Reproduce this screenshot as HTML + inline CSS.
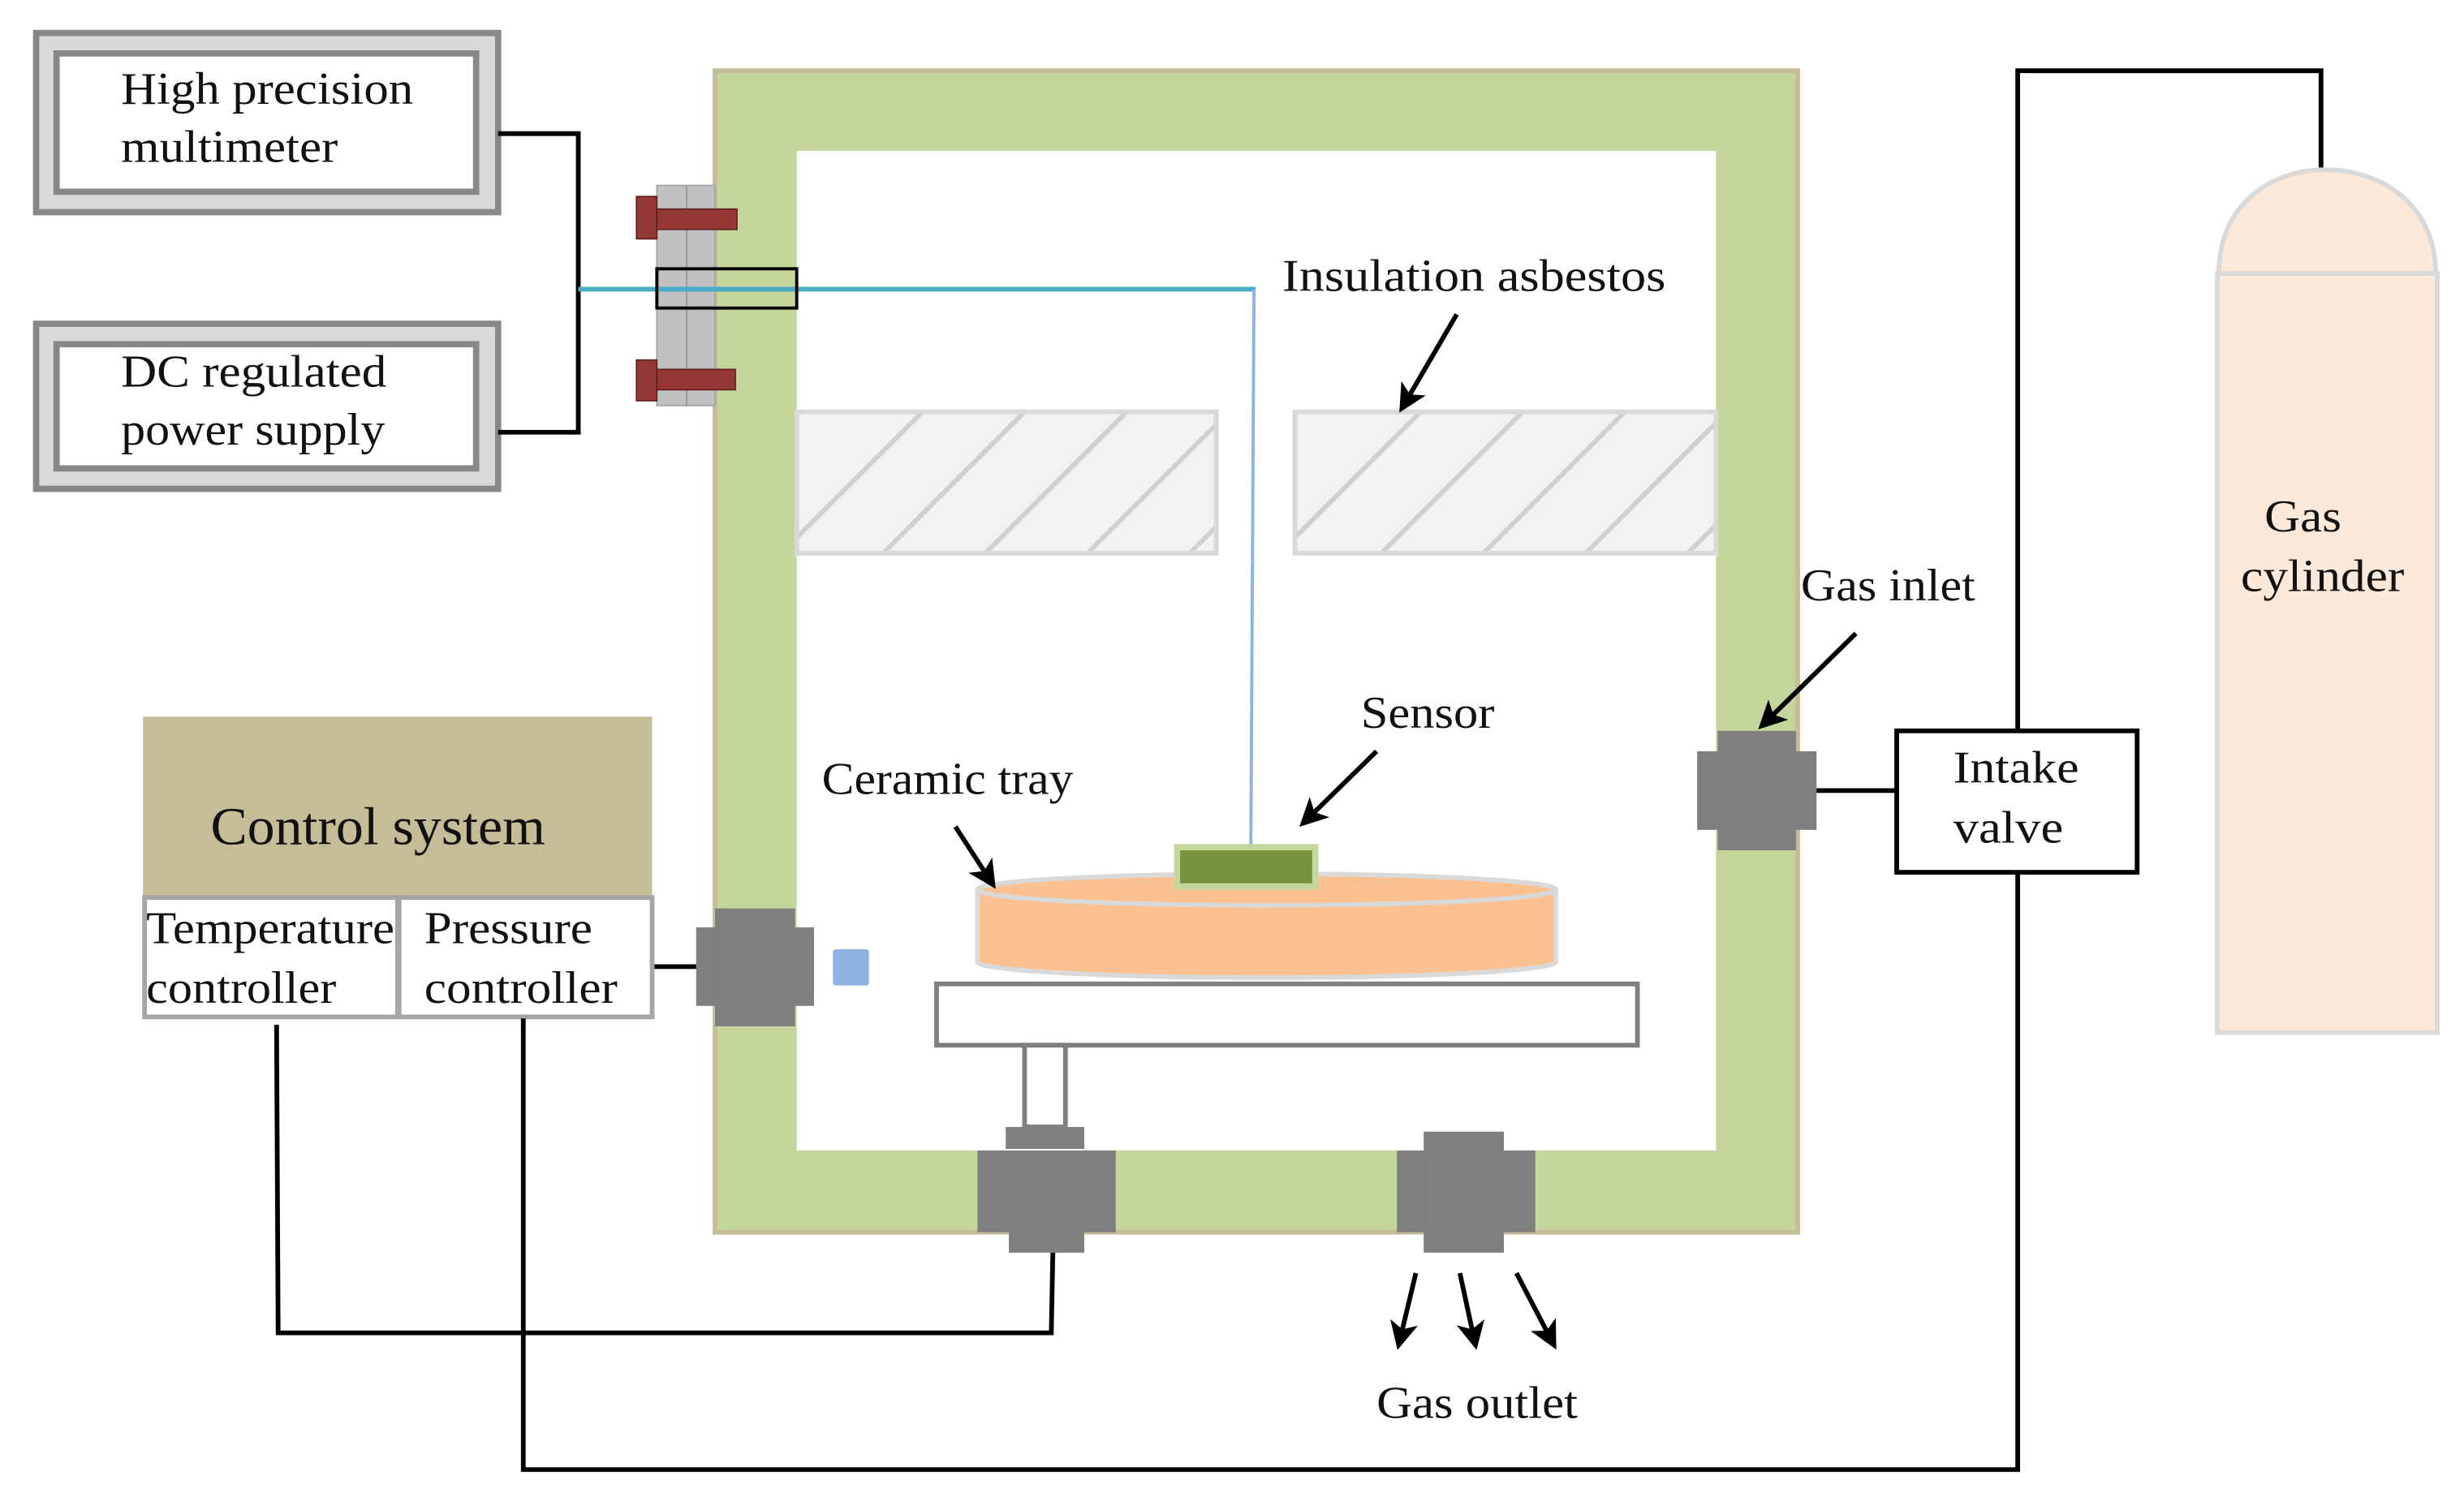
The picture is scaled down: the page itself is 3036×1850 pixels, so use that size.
<!DOCTYPE html>
<html><head><meta charset="utf-8"><style>
html,body{margin:0;padding:0;background:#fff;}
svg{display:block;}
text{font-family:"Liberation Serif",serif;font-size:29px;fill:#111;}
</style></head><body>
<svg width="3036" height="1850" viewBox="0 0 1568 955" preserveAspectRatio="none" xmlns="http://www.w3.org/2000/svg">
<defs>
<marker id="ah" markerWidth="6" markerHeight="6" refX="5" refY="3" orient="auto" markerUnits="strokeWidth">
<path d="M0,0 L6,3 L0,6 L1.5,3 z" fill="#000"/></marker>
<clipPath id="c1"><rect x="507" y="262" width="267" height="90"/></clipPath>
<clipPath id="c2"><rect x="824" y="262" width="268" height="90"/></clipPath>
</defs>
<rect x="23" y="21" width="294" height="114" fill="#d9d9d9" stroke="#888" stroke-width="4"/>
<rect x="36" y="34" width="267" height="88" fill="#fff" stroke="#888" stroke-width="4"/>
<rect x="23" y="206" width="294" height="105" fill="#d9d9d9" stroke="#888" stroke-width="4"/>
<rect x="36" y="219" width="267" height="79" fill="#fff" stroke="#888" stroke-width="4"/>
<text x="77" y="66" textLength="186" lengthAdjust="spacingAndGlyphs">High precision</text>
<text x="77" y="103" textLength="138" lengthAdjust="spacingAndGlyphs">multimeter</text>
<text x="77" y="246" textLength="169" lengthAdjust="spacingAndGlyphs">DC regulated</text>
<text x="77" y="283" textLength="168" lengthAdjust="spacingAndGlyphs">power supply</text>
<polyline points="317,85 368,85 368,275 317,275" fill="none" stroke="#000" stroke-width="3"/>
<rect x="455" y="45" width="689" height="739" fill="#c3d69b" stroke="#c4bd97" stroke-width="3"/>
<rect x="507" y="96" width="585" height="636" fill="#fff"/>
<rect x="418" y="118" width="37" height="140" fill="#c0c0c0" stroke="#a6a6a6" stroke-width="1"/>
<line x1="437" y1="118" x2="437" y2="258" stroke="#999" stroke-width="1"/>
<rect x="405" y="125" width="13" height="27" fill="#953735" stroke="#5a1e1c" stroke-width="0.8"/>
<rect x="418" y="133" width="51" height="13" fill="#953735" stroke="#5a1e1c" stroke-width="0.8"/>
<rect x="405" y="229" width="13" height="26" fill="#953735" stroke="#5a1e1c" stroke-width="0.8"/>
<rect x="418" y="235" width="50" height="13" fill="#953735" stroke="#5a1e1c" stroke-width="0.8"/>
<line x1="368" y1="184" x2="799" y2="184" stroke="#4bacc6" stroke-width="3"/>
<rect x="418" y="171" width="89" height="25" fill="none" stroke="#000" stroke-width="2"/>
<line x1="798" y1="184" x2="796" y2="540" stroke="#8db3e2" stroke-width="2"/>
<g clip-path="url(#c1)" stroke="#d0d0d0" stroke-width="3">
<rect x="507" y="262" width="267" height="90" fill="#f2f2f2"/>
<line x1="497" y1="352" x2="587" y2="262"/><line x1="562" y1="352" x2="652" y2="262"/><line x1="627" y1="352" x2="717" y2="262"/><line x1="692" y1="352" x2="782" y2="262"/><line x1="757" y1="352" x2="847" y2="262"/>
</g>
<rect x="507" y="262" width="267" height="90" fill="none" stroke="#d9d9d9" stroke-width="3"/>
<g clip-path="url(#c2)" stroke="#d0d0d0" stroke-width="3">
<rect x="824" y="262" width="268" height="90" fill="#f2f2f2"/>
<line x1="814" y1="352" x2="904" y2="262"/><line x1="879" y1="352" x2="969" y2="262"/><line x1="944" y1="352" x2="1034" y2="262"/><line x1="1009" y1="352" x2="1099" y2="262"/><line x1="1074" y1="352" x2="1164" y2="262"/>
</g>
<rect x="824" y="262" width="268" height="90" fill="none" stroke="#d9d9d9" stroke-width="3"/>
<text x="816" y="185" textLength="244" lengthAdjust="spacingAndGlyphs">Insulation  asbestos</text>
<line x1="927" y1="200" x2="892" y2="260" stroke="#000" stroke-width="3" marker-end="url(#ah)"/>
<path d="M622,566 L622,612 A184,10 0 0 0 990,612 L990,566" fill="#fac090" stroke="#d9d9d9" stroke-width="3"/>
<ellipse cx="806" cy="566" rx="184" ry="10" fill="#fac090" stroke="#d9d9d9" stroke-width="3"/>
<rect x="749" y="539" width="88" height="25" fill="#77933c" stroke="#c3d69b" stroke-width="4"/>
<rect x="596" y="626" width="446" height="39" fill="#fff" stroke="#7f7f7f" stroke-width="3"/>
<rect x="652" y="665" width="26" height="52" fill="#fff" stroke="#7f7f7f" stroke-width="3"/>
<rect x="640" y="717" width="50" height="14" fill="#7f7f7f"/>
<rect x="622" y="732" width="88" height="52" fill="#7f7f7f"/>
<rect x="642" y="732" width="48" height="65" fill="#7f7f7f"/>
<rect x="889" y="732" width="88" height="52" fill="#7f7f7f"/>
<rect x="906" y="720" width="51" height="77" fill="#7f7f7f"/>
<line x1="901" y1="810" x2="890" y2="856" stroke="#000" stroke-width="3" marker-end="url(#ah)"/>
<line x1="929" y1="810" x2="939" y2="856" stroke="#000" stroke-width="3" marker-end="url(#ah)"/>
<line x1="965" y1="810" x2="989" y2="856" stroke="#000" stroke-width="3" marker-end="url(#ah)"/>
<text x="876" y="902" textLength="128" lengthAdjust="spacingAndGlyphs">Gas outlet</text>
<text x="866" y="463" textLength="85" lengthAdjust="spacingAndGlyphs">Sensor</text>
<line x1="876" y1="478" x2="829" y2="524" stroke="#000" stroke-width="3" marker-end="url(#ah)"/>
<text x="523" y="505" textLength="160" lengthAdjust="spacingAndGlyphs">Ceramic tray</text>
<line x1="608" y1="526" x2="632" y2="563" stroke="#000" stroke-width="3" marker-end="url(#ah)"/>
<rect x="443" y="590" width="75" height="50" fill="#7f7f7f"/>
<rect x="455" y="578" width="51" height="75" fill="#7f7f7f"/>
<rect x="530" y="604" width="23" height="23" rx="2" fill="#8db3e2"/>
<line x1="415" y1="615" x2="443" y2="615" stroke="#000" stroke-width="3"/>
<rect x="91" y="456" width="324" height="114" fill="#c4bd97"/>
<text x="134" y="537" style="font-size:34px" textLength="213" lengthAdjust="spacingAndGlyphs">Control system</text>
<rect x="92" y="571" width="161" height="76" fill="#fff" stroke="#a6a6a6" stroke-width="3"/>
<rect x="254" y="571" width="161" height="76" fill="#fff" stroke="#a6a6a6" stroke-width="3"/>
<text x="93" y="600" textLength="158" lengthAdjust="spacingAndGlyphs">Temperature</text>
<text x="93" y="638" textLength="121" lengthAdjust="spacingAndGlyphs">controller</text>
<text x="270" y="600" textLength="107" lengthAdjust="spacingAndGlyphs">Pressure</text>
<text x="270" y="638" textLength="123" lengthAdjust="spacingAndGlyphs">controller</text>
<polyline points="176,652 177,848 669,848 670,797" fill="none" stroke="#000" stroke-width="3"/>
<polyline points="333,648 333,935 1284,935 1284,45 1477,45 1477,110" fill="none" stroke="#000" stroke-width="3"/>
<rect x="1080" y="478" width="76" height="50" fill="#7f7f7f"/>
<rect x="1093" y="465" width="50" height="76" fill="#7f7f7f"/>
<line x1="1156" y1="503" x2="1207" y2="503" stroke="#000" stroke-width="3"/>
<text x="1146" y="382" textLength="111" lengthAdjust="spacingAndGlyphs">Gas inlet</text>
<line x1="1181" y1="403" x2="1121" y2="462" stroke="#000" stroke-width="3" marker-end="url(#ah)"/>
<rect x="1207" y="465" width="153" height="90" fill="#fff" stroke="#000" stroke-width="3"/>
<text x="1243" y="498" textLength="80" lengthAdjust="spacingAndGlyphs">Intake</text>
<text x="1243" y="536" textLength="70" lengthAdjust="spacingAndGlyphs">valve</text>
<path d="M1412,174 C1412,130 1445,108 1480,108 C1515,108 1550,130 1550,174 Z" fill="#fde9d9" stroke="#d9d9d9" stroke-width="3"/>
<rect x="1411" y="174" width="140" height="483" fill="#fde9d9" stroke="#d9d9d9" stroke-width="3"/>
<text x="1441" y="338" textLength="49" lengthAdjust="spacingAndGlyphs">Gas</text>
<text x="1426" y="376" textLength="104" lengthAdjust="spacingAndGlyphs">cylinder</text>
</svg>
</body></html>
